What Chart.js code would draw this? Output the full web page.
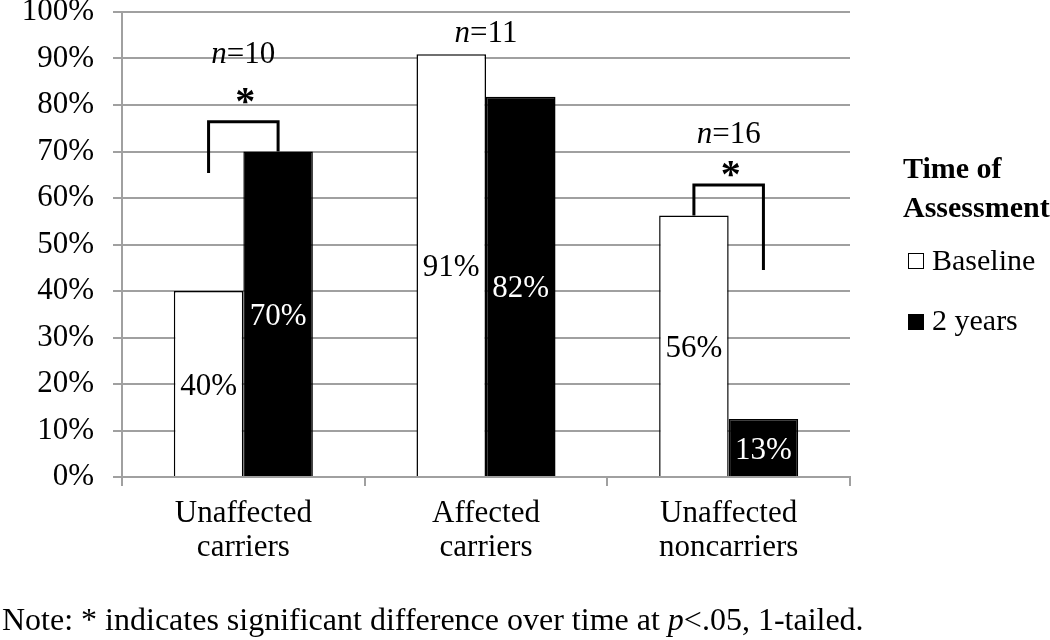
<!DOCTYPE html>
<html>
<head>
<meta charset="utf-8">
<script src="https://cdn.jsdelivr.net/npm/chart.js@4.4.1/dist/chart.umd.min.js"></script>
<style>
    body { margin: 0; background: #fff; font-family: "Liberation Serif", "Times New Roman", serif; }
    #wrap { position: relative; width: 1050px; height: 640px; overflow: hidden; }
    #chart { position: absolute; left: 0; top: 0; }
    .txt { position: absolute; font-size: 30px; line-height: 30px; white-space: nowrap; color: #000; }
    .bold { font-weight: bold; }
    .box { position: absolute; width: 14px; height: 14px; border: 1.5px solid #000; }
    .note { font-size: 32px; line-height: 32px; }
</style>
</head>
<body>
<div id="wrap">
    <canvas id="chart" width="1050" height="640"></canvas>
    <div class="txt bold" style="left:903px; top:153px;">Time of</div>
    <div class="txt bold" style="left:903px; top:192px;">Assessment</div>
    <div class="box" style="left:908px; top:253px; background:#fff;"></div>
    <div class="txt" style="left:932px; top:245px;">Baseline</div>
    <div class="box" style="left:908px; top:314px; background:#000;"></div>
    <div class="txt" style="left:932px; top:305px;">2 years</div>
    <div class="txt note" style="left:2px; top:603px;">Note: * indicates significant difference over time at <i>p</i>&lt;.05, 1-tailed.</div>
</div>
<script>
// Daten
const categories = [['Unaffected', 'carriers'], ['Affected', 'carriers'], ['Unaffected', 'noncarriers']];
const seriesNames = ['Baseline', '2 years'];
const baselineValues = [40, 90.9, 56.25];
const twoYearValues = [70, 81.8, 12.5];
const groupSizes = [10, 11, 16];
const yTickValues = [0, 10, 20, 30, 40, 50, 60, 70, 80, 90, 100];

const FONT = '"Liberation Serif", "Times New Roman", serif';
const GRID = '#a0a0a0';

// Beschriftungen, n-Werte und Signifikanzklammern
const annotations = {
    id: 'annotations',
    afterDatasetsDraw(chart, args, opts) {
        const ctx = chart.ctx;
        const y = chart.scales.y;
        const x = chart.scales.x;
        const metaA = chart.getDatasetMeta(0);
        const metaB = chart.getDatasetMeta(1);
        ctx.save();

        // Werte in den Balken
        ctx.font = '31px ' + FONT;
        ctx.textAlign = 'center';
        ctx.textBaseline = 'middle';
        chart.data.datasets.forEach((ds, di) => {
            chart.getDatasetMeta(di).data.forEach((bar, i) => {
                const v = ds.data[i];
                ctx.fillStyle = di === 0 ? '#000' : '#fff';
                ctx.fillText(Math.round(v) + '%', bar.x, (bar.y + bar.base) / 2 + 3);
            });
        });

        // n-Werte
        ctx.textBaseline = 'alphabetic';
        ctx.textAlign = 'left';
        groupSizes.forEach((n, i) => {
            const cx = x.getPixelForValue(i);
            const py = y.getPixelForValue(opts.nAt[i]);
            ctx.font = 'italic 31px ' + FONT;
            const w1 = ctx.measureText('n').width;
            ctx.font = '31px ' + FONT;
            const w2 = ctx.measureText('=' + n).width;
            const left = cx - (w1 + w2) / 2;
            ctx.fillStyle = '#000';
            ctx.font = 'italic 31px ' + FONT;
            ctx.fillText('n', left, py);
            ctx.font = '31px ' + FONT;
            ctx.fillText('=' + n, left + w1, py);
        });

        // Klammern mit Sternchen
        opts.brackets.forEach(b => {
            const xl = metaA.data[b.cat].x;
            const xr = metaB.data[b.cat].x;
            const top = y.getPixelForValue(b.top);
            ctx.strokeStyle = '#000';
            ctx.lineWidth = 3;
            ctx.lineCap = 'butt';
            ctx.beginPath();
            ctx.moveTo(xl, y.getPixelForValue(b.left));
            ctx.lineTo(xl, top);
            ctx.lineTo(xr, top);
            ctx.lineTo(xr, y.getPixelForValue(b.right));
            ctx.stroke();
            ctx.font = 'bold 40px ' + FONT;
            ctx.textAlign = 'center';
            ctx.fillText('*', (xl + xr) / 2 + 2, y.getPixelForValue(b.star) + 19);
        });
        ctx.restore();
    }
};

new Chart(document.getElementById('chart'), {
    type: 'bar',
    data: {
        labels: categories,
        datasets: [{
            label: seriesNames[0],
            data: baselineValues,
            backgroundColor: '#fff',
            borderColor: '#000',
            borderWidth: 1.5
        }, {
            label: seriesNames[1],
            data: twoYearValues,
            backgroundColor: '#000',
            borderColor: '#000',
            borderWidth: 1.5
        }]
    },
    options: {
        responsive: false,
        animation: false,
        devicePixelRatio: 1,
        categoryPercentage: 0.573,
        barPercentage: 1,
        layout: { padding: { top: 12, right: 200, left: 0, bottom: 0 } },
        plugins: {
            legend: { display: false },
            tooltip: { enabled: false },
            annotations: {
                nAt: [89.0, 93.5, 71.8],
                brackets: [
                    { cat: 0, top: 76.4, left: 65.4, right: 70, star: 82.2 },
                    { cat: 2, top: 62.8, left: 56.25, right: 44.5, star: 66.5 }
                ]
            }
        },
        scales: {
            x: {
                grid: { drawOnChartArea: false, drawTicks: true, tickLength: 9, color: GRID, lineWidth: 2, offset: true },
                border: { color: GRID, width: 2 },
                ticks: {
                    color: '#000',
                    font: { family: FONT, size: 31, lineHeight: 1.1 },
                    padding: 11,
                    maxRotation: 0,
                    autoSkip: false
                },
                afterFit(s) { s.height = 163; }
            },
            y: {
                min: 0,
                max: 100,
                afterBuildTicks(s) { s.ticks = yTickValues.map(v => ({ value: v })); },
                grid: { color: GRID, lineWidth: 2, tickLength: 9 },
                border: { color: GRID, width: 2 },
                ticks: {
                    color: '#000',
                    font: { family: FONT, size: 31 },
                    padding: 19,
                    callback: v => v + '%'
                },
                afterFit(s) { s.width = 122; s.paddingTop = 0; s.paddingBottom = 0; }
            }
        }
    },
    plugins: [annotations]
});
</script>
</body>
</html>
